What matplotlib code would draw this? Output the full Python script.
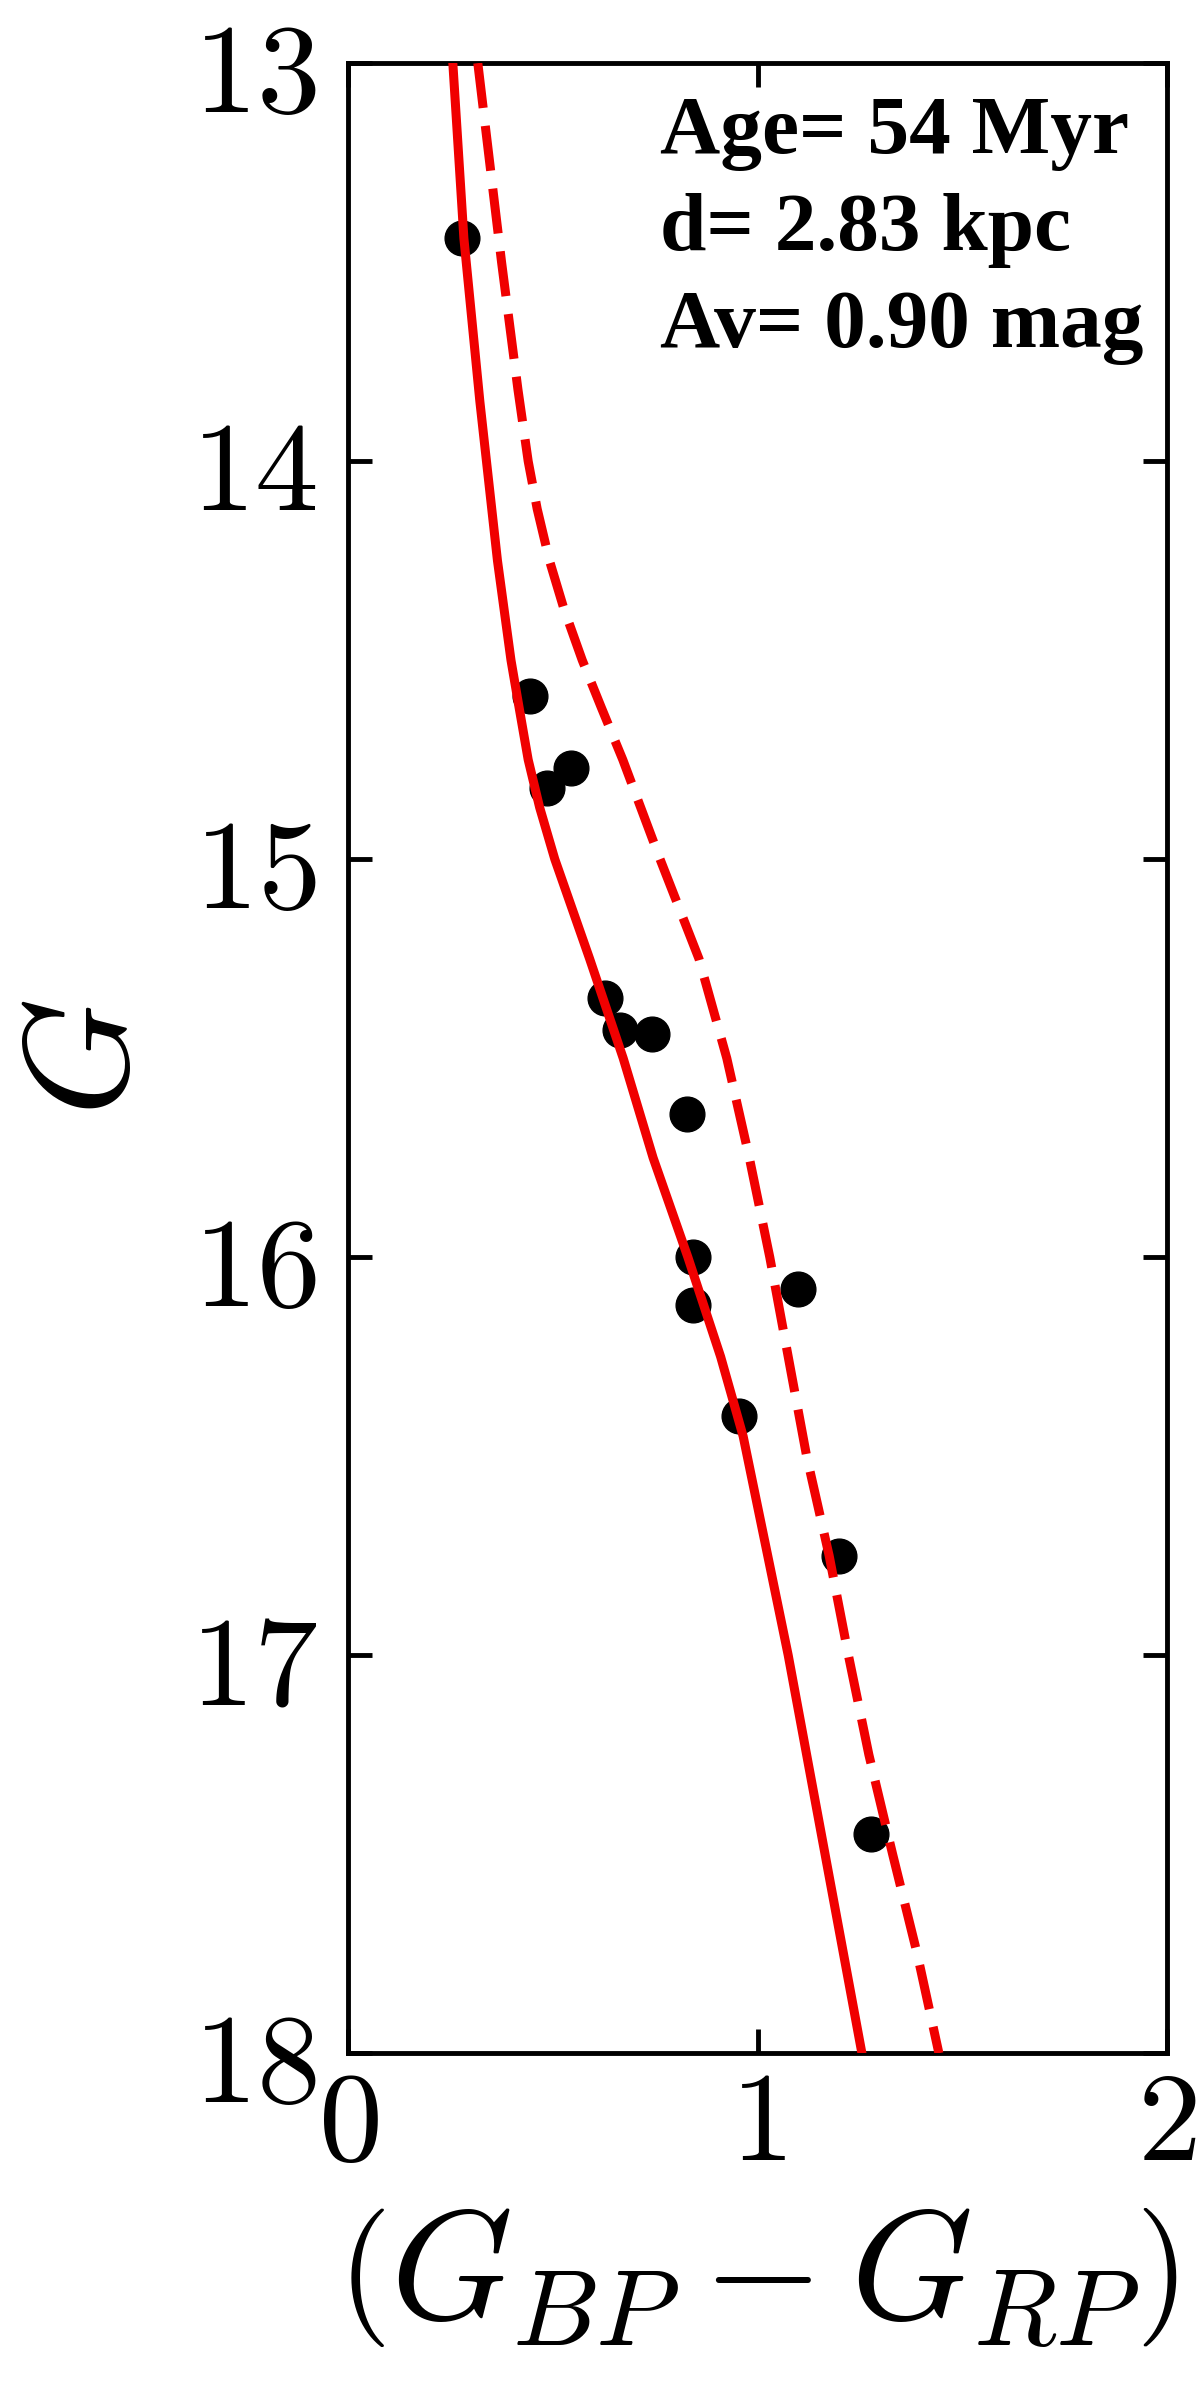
import numpy as np
import matplotlib.pyplot as plt

plt.rcParams['mathtext.fontset'] = 'cm'

# cluster members: (BP-RP, G)
bp_rp = [0.278, 0.444, 0.544, 0.485, 0.628, 0.664, 0.742, 0.828,
         0.842, 0.842, 1.099, 0.955, 1.200, 1.277]
g_mag = [13.44, 14.59, 14.77, 14.82, 15.35, 15.43, 15.44, 15.64,
         16.00, 16.12, 16.08, 16.40, 16.75, 17.45]

# best-fit isochrone (solid)
iso_g = [13.00, 13.44, 13.85, 14.25, 14.50, 14.62, 14.75, 14.87, 15.00,
         15.25, 15.50, 15.75, 16.00, 16.25, 16.45, 16.75, 17.00, 17.50, 18.00]
iso_col = [0.256, 0.283, 0.322, 0.365, 0.398, 0.418, 0.440, 0.468, 0.505,
           0.590, 0.672, 0.745, 0.830, 0.910, 0.965, 1.025, 1.075, 1.165, 1.255]

# equal-mass binary sequence (dashed)
bin_g = [13.00, 13.50, 13.82, 14.00, 14.12, 14.25, 14.37, 14.50, 14.62,
         14.75, 15.00, 15.25, 15.50, 15.75, 16.00, 16.25, 16.50, 16.75,
         17.00, 17.25, 17.50, 17.75, 18.00]
bin_col = [0.317, 0.375, 0.415, 0.440, 0.462, 0.492, 0.527, 0.572, 0.619,
           0.671, 0.762, 0.857, 0.925, 0.980, 1.030, 1.075, 1.120, 1.175,
           1.222, 1.272, 1.330, 1.390, 1.443]

x_ticks = [0, 1, 2]
y_ticks = [13, 14, 15, 16, 17, 18]
info_lines = ['Age= 54 Myr', 'd= 2.83 kpc', 'Av= 0.90 mag']

fig = plt.figure(figsize=(12, 23.82), dpi=100)
ax = fig.add_axes([0.29, 0.138, 0.6825, 0.8355])

ax.plot(bp_rp, g_mag, 'o', color='black', ms=25, zorder=2)
ax.plot(iso_col, iso_g, color='#f00000', lw=6.5, zorder=3)
ax.plot(bin_col, bin_g, color='#f00000', lw=6.5, ls=(0, (5.0, 2.0)), zorder=3)

ax.set_xlim(0, 2)
ax.set_ylim(18, 13)
ax.set_xticks(x_ticks)
ax.set_xticklabels([f'${t}$' for t in x_ticks])
ax.set_yticks(y_ticks)
ax.set_yticklabels([f'${t}$' for t in y_ticks])
ax.tick_params(direction='in', length=17, width=3.5, top=True, right=True, labelsize=92)
ax.tick_params(axis='y', pad=22)
ax.tick_params(axis='x', pad=6)
for sp in ax.spines.values():
    sp.set_linewidth(3.5)

ax.set_xlabel(r'$\left(G_{BP}-G_{RP}\right)$', fontsize=112, labelpad=10)
ax.set_ylabel(r'$G$', fontsize=108, labelpad=22)

for i, line in enumerate(info_lines):
    ax.text(0.381, 0.955 - i * 0.0488, line, transform=ax.transAxes,
            ha='left', va='baseline', fontsize=60, fontweight='bold',
            family='Liberation Serif')

fig.savefig('out.png', dpi=100)
